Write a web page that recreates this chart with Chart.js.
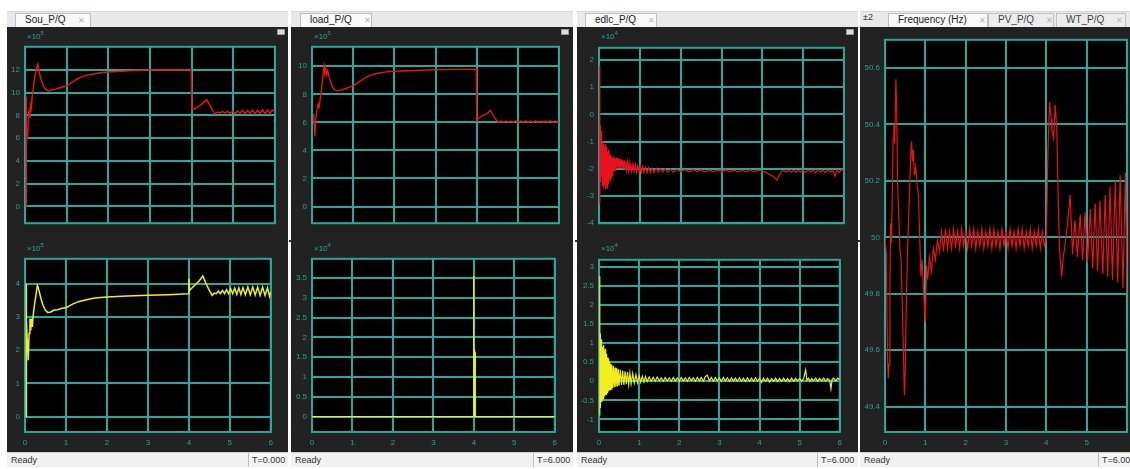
<!DOCTYPE html>
<html>
<head>
<meta charset="utf-8">
<script src="https://cdn.jsdelivr.net/npm/chart.js@4.4.1/dist/chart.umd.min.js"></script>
<style>
  body{margin:0;width:1130px;height:469px;overflow:hidden;background:#fff;position:relative;font-family:"Liberation Sans",Arial,sans-serif}
  .abs{position:absolute;box-sizing:border-box}
  .strip{background:#e9e9e9;border-top:1px solid #d6d6d6}
  .tab{background:#f8f8f8;border:1px solid #b8c2ce;border-bottom:none;font-size:10px;color:#222;line-height:12px;white-space:nowrap;padding-left:9px}
  .tab.off{background:#ececec;color:#444}
  .tab .x{color:#b5b5b5;margin-left:12px;font-size:8px}
  .dark{background:#222}
  .status{background:#f0f0f0;border-top:1px solid #cfcfcf;font-size:9px;color:#333;line-height:14px;padding-left:4px}
  .tbox{background:#f4f4f4;border-left:1px solid #bdbdbd;font-size:9px;color:#333;line-height:14px;padding-left:3px}
  .exp{font-size:8px;color:#2e9e95;white-space:nowrap}
  .exp sup{font-size:6px;vertical-align:4px}
  .btn{background:#ddd;border:1px solid #999}
  .dot{background:#333;width:2px;height:2px}
  .cw{position:absolute}
</style>
</head>
<body>

<!-- window 1 -->
<div class="abs strip" style="left:7px;top:11px;width:281px;height:16px"></div>
<div class="abs tab" style="left:15px;top:13px;width:76px;height:14px">Sou_P/Q<span class="x">✕</span></div>
<div class="abs dark" style="left:7px;top:27px;width:281px;height:425px"></div>
<div class="abs status" style="left:7px;top:452px;width:281px;height:15px">Ready</div>
<div class="abs tbox" style="left:248px;top:453px;width:38px;height:14px">T=0.000</div>
<div class="abs btn" style="left:277px;top:29px;width:8px;height:6px"></div>
<div class="abs exp" style="left:27px;top:30px">×10<sup>5</sup></div>
<div class="abs exp" style="left:27px;top:242px">×10<sup>5</sup></div>

<!-- window 2 -->
<div class="abs strip" style="left:291px;top:11px;width:282px;height:16px"></div>
<div class="abs tab" style="left:300px;top:13px;width:72px;height:14px">load_P/Q<span class="x">✕</span></div>
<div class="abs dark" style="left:291px;top:27px;width:282px;height:425px"></div>
<div class="abs status" style="left:291px;top:452px;width:282px;height:15px">Ready</div>
<div class="abs tbox" style="left:533px;top:453px;width:39px;height:14px">T=6.000</div>
<div class="abs btn" style="left:561px;top:29px;width:8px;height:6px"></div>
<div class="abs exp" style="left:314px;top:30px">×10<sup>5</sup></div>
<div class="abs exp" style="left:314px;top:242px">×10<sup>4</sup></div>

<!-- window 3 -->
<div class="abs strip" style="left:577px;top:11px;width:281px;height:16px"></div>
<div class="abs tab" style="left:585px;top:13px;width:72px;height:14px">edlc_P/Q<span class="x">✕</span></div>
<div class="abs dark" style="left:577px;top:27px;width:281px;height:425px"></div>
<div class="abs status" style="left:577px;top:452px;width:281px;height:15px">Ready</div>
<div class="abs tbox" style="left:817px;top:453px;width:40px;height:14px">T=6.000</div>
<div class="abs btn" style="left:846px;top:29px;width:8px;height:6px"></div>
<div class="abs exp" style="left:601px;top:30px">×10<sup>4</sup></div>
<div class="abs exp" style="left:601px;top:242px">×10<sup>4</sup></div>

<!-- window 4 -->
<div class="abs strip" style="left:860px;top:11px;width:280px;height:16px"></div>
<div class="abs" style="left:863px;top:12px;font-size:9px;color:#333">±2</div>
<div class="abs tab" style="left:888px;top:13px;width:100px;height:14px">Frequency (Hz)<span class="x">✕</span></div>
<div class="abs tab off" style="left:988px;top:13px;width:66px;height:14px">PV_P/Q<span class="x">✕</span></div>
<div class="abs tab off" style="left:1056px;top:13px;width:70px;height:14px">WT_P/Q<span class="x">✕</span></div>
<div class="abs dark" style="left:860px;top:27px;width:280px;height:425px"></div>
<div class="abs status" style="left:860px;top:452px;width:280px;height:15px">Ready</div>
<div class="abs tbox" style="left:1098px;top:453px;width:40px;height:14px">T=6.000</div>

<!-- splitter handles -->
<div class="abs dot" style="left:289px;top:240px"></div>
<div class="abs dot" style="left:575px;top:240px"></div>
<div class="abs dot" style="left:858px;top:240px"></div>

<div class="cw" id="w1"><canvas id="c1"></canvas></div>
<div class="cw" id="w2"><canvas id="c2"></canvas></div>
<div class="cw" id="w3"><canvas id="c3"></canvas></div>
<div class="cw" id="w4"><canvas id="c4"></canvas></div>
<div class="cw" id="w5"><canvas id="c5"></canvas></div>
<div class="cw" id="w6"><canvas id="c6"></canvas></div>
<div class="cw" id="w7"><canvas id="c7"></canvas></div>

<script>
// ---- time axis ticks (s) ----
const timeTicks = [0, 1, 2, 3, 4, 5, 6];
const freqTimeTicks = [0, 1, 2, 3, 4, 5];

// ---- y tick values ----
const souPTicks = [0, 2, 4, 6, 8, 10, 12];
const souQTicks = [0, 1, 2, 3, 4];
const loadPTicks = [0, 2, 4, 6, 8, 10];
const loadQTicks = [0, 0.5, 1, 1.5, 2, 2.5, 3, 3.5];
const edlcPTicks = [-4, -3, -2, -1, 0, 1, 2];
const edlcQTicks = [-1, -0.5, 0, 0.5, 1, 1.5, 2, 2.5, 3];
const freqTicks = [49.4, 49.6, 49.8, 50, 50.2, 50.4, 50.6];

// ---- source active power (x1e5), [t, value] ----
const souP = [[0.025,0],[0.025,9.7],[0.035,6.3],[0.06,6.1],[0.09,8.4],[0.11,7.8],[0.13,8.9],[0.15,8.6],[0.17,9.6],
  [0.2,10.4],[0.24,11.6],[0.28,12.2],[0.31,12.5],[0.34,11.8],[0.38,11.2],[0.43,10.7],[0.5,10.3],[0.57,10.15],
  [0.64,10.25],[0.72,10.3],[0.8,10.4],[0.9,10.5],[1.0,10.6],[1.12,10.9],[1.24,11.2],[1.36,11.4],[1.48,11.55],
  [1.65,11.65],[1.8,11.75],[2.0,11.82],[2.3,11.9],[2.6,11.95],[3.0,12.0],[3.5,12.0],[3.99,12.0],[4.01,8.5],
  [4.08,8.6],[4.16,8.8],[4.24,9.0],[4.3,9.2],[4.36,9.4],[4.42,9.0],[4.48,8.6],[4.55,8.15],[4.62,8.3],
  [4.68,8.22],[4.74,8.34],[4.8,8.22],[4.86,8.36],[4.92,8.2],[4.98,8.38],[5.04,8.18],[5.1,8.4],[5.16,8.2],
  [5.22,8.45],[5.28,8.17],[5.34,8.42],[5.4,8.2],[5.46,8.46],[5.52,8.16],[5.58,8.46],[5.64,8.2],[5.7,8.5],
  [5.76,8.16],[5.82,8.48],[5.88,8.2],[5.94,8.48],[6.0,8.3]];

// ---- source reactive power (x1e5) ----
const souQ = [[0.025,0],[0.025,4.0],[0.03,3.0],[0.045,2.9],[0.06,2.2],[0.08,1.7],[0.1,2.5],[0.12,2.95],[0.14,2.6],
  [0.16,2.95],[0.18,2.7],[0.2,3.05],[0.23,3.35],[0.26,3.6],[0.3,3.95],[0.32,3.9],[0.35,3.75],[0.39,3.55],
  [0.44,3.35],[0.5,3.2],[0.56,3.13],[0.63,3.15],[0.7,3.2],[0.8,3.22],[0.9,3.26],[1.0,3.28],[1.15,3.38],
  [1.3,3.46],[1.5,3.52],[1.7,3.57],[2.0,3.6],[2.5,3.63],[3.0,3.65],[3.5,3.67],[3.99,3.7],[4.0,4.15],
  [4.02,3.8],[4.1,3.9],[4.18,4.0],[4.26,4.1],[4.34,4.23],[4.42,4.0],[4.5,3.8],[4.57,3.65],[4.62,3.72],
  [4.67,3.7],[4.72,3.78],[4.77,3.7],[4.82,3.8],[4.87,3.7],[4.92,3.82],[4.97,3.7],[5.02,3.85],[5.07,3.7],
  [5.12,3.87],[5.17,3.68],[5.22,3.88],[5.27,3.68],[5.32,3.88],[5.38,3.67],[5.44,3.9],[5.5,3.67],[5.56,3.9],
  [5.62,3.66],[5.68,3.9],[5.74,3.65],[5.8,3.9],[5.86,3.65],[5.92,3.88],[5.97,3.62],[6.0,3.75]];

// ---- load active power ----
const loadP = [[0.04,6.6],[0.07,5.0],[0.09,6.2],[0.12,6.9],[0.15,7.3],[0.17,7.0],[0.2,7.7],[0.23,8.3],
  [0.26,9.2],[0.29,10.0],[0.31,9.5],[0.33,9.9],[0.35,9.4],[0.38,9.7],[0.41,9.3],[0.45,8.9],[0.5,8.5],
  [0.56,8.3],[0.62,8.25],[0.7,8.3],[0.8,8.4],[0.9,8.5],[1.0,8.6],[1.1,8.8],[1.2,9.0],[1.3,9.2],[1.45,9.4],
  [1.6,9.5],[1.8,9.6],[2.0,9.65],[2.5,9.7],[3.0,9.75],[3.5,9.78],[3.99,9.8],[4.0,6.1],[4.05,6.3],[4.15,6.5],
  [4.25,6.6],[4.33,6.85],[4.4,6.5],[4.47,6.2],[4.53,5.98],[4.59,6.1],[4.65,6.0],[4.71,6.1],[4.77,6.02],
  [4.83,6.1],[4.89,6.0],[4.95,6.11],[5.01,6.0],[5.07,6.1],[5.13,5.99],[5.19,6.11],[5.25,6.0],[5.31,6.1],
  [5.37,5.99],[5.43,6.11],[5.49,5.99],[5.55,6.1],[5.61,5.99],[5.67,6.11],[5.73,5.99],[5.79,6.12],[5.85,5.99],
  [5.91,6.11],[5.97,5.99],[6.0,6.05]];

// ---- load reactive power (x1e4) ----
const loadQ = [[0,0],[3.995,0],[3.995,3.56],[4.0,3.56],[4.0,0],[4.02,0],[4.02,1.65],[4.035,1.6],[4.035,0],[6,0]];

// ---- EDLC active power (x1e4) ----
const edlcP = [[0.02,1.8],[0.02,-3.3],[0.025,-0.4],[0.03,-2.4],[0.035,-0.5],[0.04,-2.5],[0.05,-0.6],[0.06,-2.3],
  [0.07,-0.9],[0.08,-2.6],[0.09,-1.1],[0.1,-2.5],[0.11,-1.0],[0.12,-2.7],[0.13,-1.2],[0.14,-2.6],[0.15,-1.1],
  [0.16,-2.75],[0.17,-1.3],[0.18,-2.6],[0.19,-1.2],[0.2,-2.7],[0.21,-1.4],[0.22,-2.5],[0.23,-1.3],[0.24,-2.55],
  [0.25,-1.45],[0.26,-2.4],[0.27,-1.5],[0.28,-2.45],[0.29,-1.5],[0.3,-2.3],[0.31,-1.55],[0.32,-2.25],
  [0.33,-1.6],[0.34,-2.2],[0.35,-1.55],[0.36,-2.1],[0.37,-1.6],[0.38,-2.1],[0.39,-1.6],[0.4,-2.05],
  [0.42,-1.6],[0.44,-2.0],[0.46,-1.6],[0.48,-2.0],[0.5,-1.62],[0.52,-1.98],[0.54,-1.65],[0.56,-2.0],
  [0.58,-1.68],[0.6,-2.0],[0.62,-1.7],[0.64,-2.02],[0.66,-1.72],[0.68,-2.03],[0.7,-1.75],[0.72,-2.05],
  [0.74,-1.78],[0.76,-2.05],[0.78,-1.8],[0.8,-2.08],[0.83,-1.82],[0.86,-2.1],[0.89,-1.85],[0.92,-2.1],
  [0.95,-1.88],[0.98,-2.12],[1.01,-1.9],[1.04,-2.12],[1.07,-1.92],[1.1,-2.13],[1.14,-1.94],[1.18,-2.14],
  [1.22,-1.95],[1.26,-2.13],[1.3,-1.97],[1.35,-2.13],[1.4,-1.98],[1.45,-2.12],[1.5,-2.0],[1.56,-2.12],
  [1.62,-2.0],[1.68,-2.12],[1.75,-2.02],[1.82,-2.12],[1.9,-2.02],[2.0,-2.1],[2.1,-2.03],[2.2,-2.11],
  [2.3,-2.03],[2.4,-2.1],[2.5,-2.04],[2.6,-2.11],[2.7,-2.04],[2.8,-2.1],[2.9,-2.05],[3.0,-2.11],[3.1,-2.04],
  [3.2,-2.1],[3.3,-2.05],[3.4,-2.11],[3.5,-2.05],[3.6,-2.1],[3.7,-2.04],[3.8,-2.1],[3.9,-2.05],[4.0,-2.08],
  [4.08,-2.12],[4.16,-2.2],[4.24,-2.25],[4.3,-2.32],[4.36,-2.42],[4.41,-2.25],[4.47,-2.1],[4.52,-2.05],
  [4.58,-2.12],[4.64,-2.05],[4.7,-2.12],[4.76,-2.06],[4.82,-2.13],[4.88,-2.05],[4.94,-2.12],[5.0,-2.06],
  [5.06,-2.14],[5.12,-2.04],[5.18,-2.12],[5.24,-2.05],[5.3,-2.15],[5.36,-2.04],[5.42,-2.12],[5.48,-2.05],
  [5.54,-2.14],[5.6,-2.04],[5.66,-2.12],[5.72,-2.05],[5.78,-2.28],[5.82,-2.05],[5.88,-2.13],[5.94,-2.03],[6.0,-2.1]];

// ---- EDLC reactive power (x1e4) ----
const edlcQ = [[0.02,2.75],[0.02,-0.9],[0.025,1.2],[0.03,-0.7],[0.035,1.25],[0.04,-0.6],[0.05,1.0],[0.06,-0.55],
  [0.07,1.1],[0.08,-0.5],[0.09,0.9],[0.1,-0.45],[0.11,0.95],[0.12,-0.42],[0.13,0.8],[0.14,-0.4],[0.15,0.85],
  [0.16,-0.36],[0.17,0.7],[0.18,-0.34],[0.19,0.72],[0.2,-0.3],[0.21,0.62],[0.22,-0.28],[0.23,0.6],[0.24,-0.26],
  [0.25,0.52],[0.26,-0.24],[0.27,0.5],[0.28,-0.22],[0.29,0.45],[0.3,-0.2],[0.32,0.44],[0.34,-0.18],[0.36,0.4],
  [0.38,-0.16],[0.4,0.36],[0.42,-0.15],[0.44,0.34],[0.46,-0.13],[0.48,0.32],[0.5,-0.12],[0.53,0.3],[0.56,-0.1],
  [0.59,0.28],[0.62,-0.1],[0.65,0.26],[0.68,-0.08],[0.71,0.24],[0.74,-0.08],[0.77,0.22],[0.8,-0.07],[0.84,0.2],
  [0.88,-0.05],[0.92,0.17],[0.96,-0.04],[1.0,0.15],[1.04,-0.03],[1.08,0.13],[1.12,-0.02],[1.16,0.12],[1.2,-0.01],
  [1.25,0.11],[1.3,0.0],[1.35,0.1],[1.4,0.0],[1.45,0.11],[1.5,0.01],[1.55,0.09],[1.6,0.0],[1.65,0.1],[1.7,0.01],
  [1.75,0.09],[1.8,0.0],[1.85,0.1],[1.9,0.01],[1.95,0.09],[2.0,0.0],[2.05,0.1],[2.1,0.01],[2.15,0.09],[2.2,0.0],
  [2.25,0.1],[2.3,0.02],[2.35,0.09],[2.4,0.0],[2.45,0.1],[2.5,0.01],[2.55,0.1],[2.6,0.0],[2.65,0.12],[2.7,0.16],
  [2.75,0.01],[2.8,0.1],[2.85,0.0],[2.9,0.1],[2.95,0.01],[3.0,0.09],[3.05,0.0],[3.1,0.1],[3.15,0.01],[3.2,0.09],
  [3.25,0.0],[3.3,0.09],[3.35,0.01],[3.4,0.08],[3.45,0.0],[3.5,0.09],[3.55,0.0],[3.6,0.08],[3.65,-0.01],
  [3.7,0.09],[3.75,0.0],[3.8,0.08],[3.85,0.0],[3.9,0.09],[3.95,0.0],[4.0,0.07],[4.05,-0.03],[4.1,0.08],
  [4.15,0.0],[4.2,0.08],[4.25,-0.02],[4.3,0.07],[4.35,0.0],[4.4,0.08],[4.45,-0.01],[4.5,0.07],[4.55,0.0],
  [4.6,0.08],[4.65,0.0],[4.7,0.07],[4.75,-0.01],[4.8,0.08],[4.85,0.0],[4.9,0.07],[4.95,0.01],[5.0,0.07],
  [5.05,0.0],[5.1,0.07],[5.15,0.3],[5.18,0.02],[5.22,0.08],[5.26,0.0],[5.3,0.07],[5.35,0.01],[5.4,0.08],
  [5.45,0.0],[5.5,0.07],[5.55,0.01],[5.6,0.08],[5.65,0.0],[5.7,0.07],[5.75,0.02],[5.78,-0.2],[5.81,0.05],
  [5.85,0.08],[5.9,0.01],[5.95,0.08],[6.0,0.04]];

// ---- grid frequency (Hz) ----
const freq = [[0,50.0],[0.03,49.95],[0.06,49.6],[0.08,49.5],[0.1,49.55],[0.12,49.8],[0.14,50.05],[0.16,49.98],
  [0.18,50.15],[0.2,50.35],[0.22,50.4],[0.24,50.33],[0.27,50.56],[0.29,50.45],[0.31,50.2],[0.34,50.08],
  [0.37,49.96],[0.4,49.92],[0.44,49.7],[0.48,49.44],[0.5,49.52],[0.53,49.78],[0.56,49.96],[0.6,50.12],
  [0.64,50.3],[0.66,50.34],[0.68,50.27],[0.7,50.31],[0.73,50.22],[0.76,50.25],[0.8,50.18],[0.83,50.15],
  [0.86,50.0],[0.89,49.86],[0.92,49.92],[0.96,49.8],[1.0,49.7],[1.03,49.9],[1.06,49.85],[1.1,49.93],
  [1.15,49.88],[1.2,49.96],[1.25,49.92],[1.3,49.99],[1.35,49.95],
  [1.4,50.02],[1.45,49.95],[1.5,50.03],[1.55,49.96],[1.6,50.02],[1.65,49.96],[1.7,50.03],[1.75,49.97],
  [1.8,50.02],[1.85,49.96],[1.9,50.03],[1.95,49.97],[2.0,50.02],[2.05,49.96],[2.1,50.03],[2.15,49.97],
  [2.2,50.03],[2.25,49.96],[2.3,50.02],[2.35,49.97],[2.4,50.03],[2.45,49.96],[2.5,50.02],[2.55,49.97],
  [2.6,50.03],[2.65,49.96],[2.7,50.03],[2.75,49.97],[2.8,50.02],[2.85,49.96],[2.9,50.03],[2.95,49.97],
  [3.0,50.02],[3.05,49.96],[3.1,50.03],[3.15,49.97],[3.2,50.02],[3.25,49.96],[3.3,50.03],[3.35,49.97],
  [3.4,50.03],[3.45,49.96],[3.5,50.02],[3.55,49.97],[3.6,50.03],[3.65,49.96],[3.7,50.02],[3.75,49.97],
  [3.8,50.03],[3.85,49.96],[3.9,50.02],[3.95,49.97],[4.0,50.0],
  [4.04,50.3],[4.08,50.48],[4.12,50.42],[4.14,50.38],[4.18,50.35],[4.22,50.47],[4.26,50.38],[4.3,50.1],
  [4.33,49.95],[4.38,49.86],[4.42,49.93],[4.46,49.97],[4.52,50.04],[4.59,50.15],[4.65,49.94],[4.71,50.06],
  [4.77,49.93],[4.84,50.08],[4.9,49.92],[4.96,50.09],[5.02,49.91],[5.09,50.1],[5.15,49.89],[5.21,50.12],
  [5.27,49.88],[5.33,50.13],[5.4,49.87],[5.46,50.15],[5.52,49.86],[5.58,50.18],[5.64,49.85],[5.71,50.2],
  [5.77,49.84],[5.83,50.22],[5.9,49.82],[5.96,50.23],[6.0,49.8]];

// ---- scope styling ----
const GRID = '#27a89b';
const TICK = '#2e9e95';
const RED = '#e8121c';
const YELLOW = '#f2ee1e';

const scopePlot = {
  id: 'scopePlot',
  beforeDraw(chart) {
    const { ctx, chartArea: a } = chart;
    ctx.save();
    ctx.fillStyle = '#000';
    ctx.fillRect(a.left, a.top, a.right - a.left, a.bottom - a.top);
    ctx.restore();
  },
  beforeDatasetsDraw(chart) {
    const { ctx, chartArea: a } = chart;
    ctx.save();
    ctx.strokeStyle = GRID;
    ctx.lineWidth = 2;
    ctx.strokeRect(a.left, a.top, a.right - a.left, a.bottom - a.top);
    ctx.restore();
  }
};

// plot rectangles inside the page: [left, top, right, bottom]
function scope(wrapId, canvasId, plot, yLabelW, hasX, series, color, lw, yMin, yMax, yTicks, xTicks) {
  const [L, T, R, B] = plot;
  const padTop = 3, padRight = 4, xH = hasX ? 18 : 3;
  const w = document.getElementById(wrapId);
  w.style.left = (L - yLabelW) + 'px';
  w.style.top = (T - padTop) + 'px';
  w.style.width = (R - L + yLabelW + padRight) + 'px';
  w.style.height = (B - T + padTop + xH) + 'px';
  const font = { family: 'Liberation Sans, Arial, sans-serif', size: 8 };
  return new Chart(document.getElementById(canvasId), {
    type: 'line',
    data: {
      datasets: [{
        data: series.map(([x, y]) => ({ x, y })),
        borderColor: color,
        borderWidth: lw,
        pointRadius: 0,
        tension: 0,
        fill: false
      }]
    },
    options: {
      responsive: true,
      maintainAspectRatio: false,
      animation: false,
      events: [],
      layout: { padding: { top: padTop, right: padRight, left: 0, bottom: 0 }, autoPadding: false },
      plugins: { legend: { display: false }, tooltip: { enabled: false } },
      scales: {
        x: {
          type: 'linear', min: 0, max: 6,
          border: { display: false },
          grid: { color: GRID, lineWidth: 2, drawTicks: false },
          ticks: { display: hasX, color: TICK, font, padding: 6, maxRotation: 0, callback: v => String(v) },
          afterBuildTicks: ax => { ax.ticks = xTicks.map(v => ({ value: v })); },
          afterFit: ax => { ax.height = xH; }
        },
        y: {
          type: 'linear', min: yMin, max: yMax,
          border: { display: false },
          grid: { color: GRID, lineWidth: 2, drawTicks: false },
          ticks: { color: TICK, font, padding: 5, callback: v => String(v) },
          afterBuildTicks: ax => { ax.ticks = yTicks.map(v => ({ value: v })); },
          afterFit: ax => { ax.width = yLabelW; }
        }
      }
    },
    plugins: [scopePlot]
  });
}

scope('w1', 'c1', [25, 40, 275, 230], 24, false, souP, RED, 1.5, -1.47, 14.04, souPTicks, timeTicks);
scope('w2', 'c2', [25, 252, 275, 432], 24, true, souQ, YELLOW, 1.5, -0.46, 4.75, souQTicks, timeTicks);
scope('w3', 'c3', [312, 40, 559, 230], 26, false, loadP, RED, 1.4, -1.19, 11.39, loadPTicks, timeTicks);
scope('w4', 'c4', [312, 252, 559, 432], 26, true, loadQ, YELLOW, 1.4, -0.39, 3.99, loadQTicks, timeTicks);
scope('w5', 'c5', [599, 41, 844, 230], 26, false, edlcP, RED, 1.2, -4, 2.45, edlcPTicks, timeTicks);
scope('w6', 'c6', [599, 253, 844, 432], 26, true, edlcQ, YELLOW, 1.2, -1.33, 3.18, edlcQTicks, timeTicks);
scope('w7', 'c7', [885, 33, 1127, 432], 30, true, freq, RED, 1.2, 49.31, 50.7, freqTicks, freqTimeTicks);
</script>
</body>
</html>
